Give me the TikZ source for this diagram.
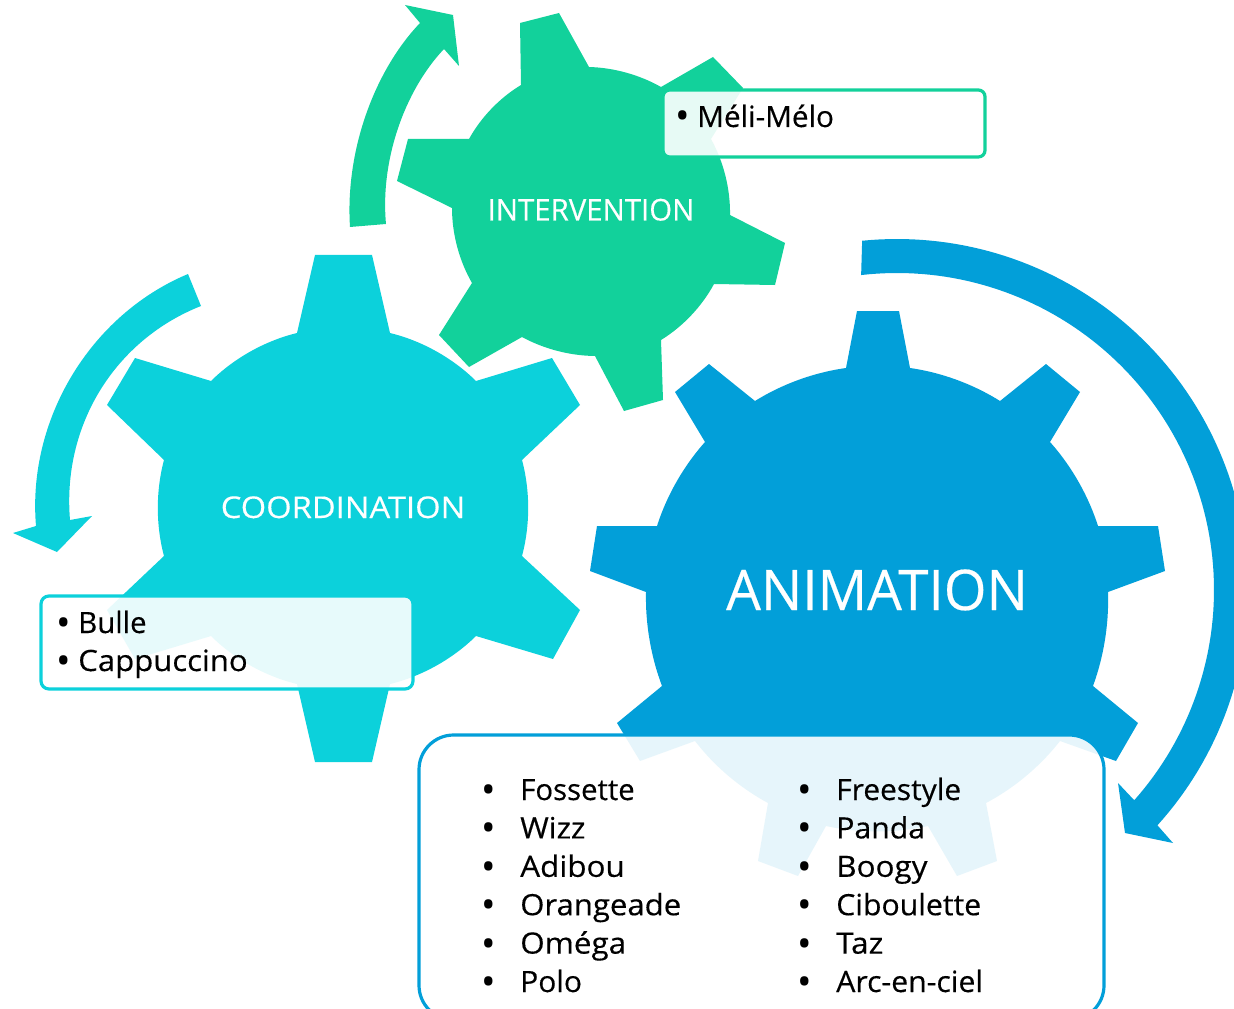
\documentclass[tikz,border=0pt]{standalone}
\usepackage{graphicx}
\usepackage{fontspec}
\setmainfont{Open Sans}
\newfontfamily\heavyfont[FakeBold=0.35]{Open Sans}
\definecolor{cblue}{HTML}{029FD9}
\definecolor{cteal}{HTML}{0CD1DB}
\definecolor{cgreen}{HTML}{12D19B}
\newcommand{\sx}[2]{\scalebox{#1}[1]{#2}}
\tikzset{
  ar/.style={bend left=#1,looseness=.85},
  ar/.default=13,
  panel/.style={line width=2.4pt,fill=white,fill opacity=.9},
  item/.style={anchor=base west,inner sep=0pt,text=black,font=\heavyfont\fontsize{22}{26}\selectfont},
  dotmark/.style={anchor=base,inner sep=0pt,text=black,font=\fontsize{29}{29}\selectfont},
  title/.style={anchor=base,inner sep=0pt,text=white},
}
\begin{document}
\begin{tikzpicture}[x=0.75pt,y=-0.75pt]
\useasboundingbox (0,0) rectangle (1234,1009);
\clip (0,0) rectangle (1234,1009);
% arrows
\fill[cgreen] (350,227) .. controls (345,150) and (375,70) .. (420,23) -- (405,5) -- (453,15) -- (459,66) -- (444,49) .. controls (405,90) and (380,160) .. (386,224) -- cycle;
\fill[cteal] (188,274) .. controls (90,315) and (27,420) .. (36,526) -- (13,533) -- (57,552) -- (92,516) -- (70,520) .. controls (62,425) and (115,340) .. (201,306) -- cycle;
\fill[cblue] plot[domain=-95.7:42.1,samples=100] ({897+351*cos(\x)},{590+351*sin(\x)}) -- (1173,843) -- (1125,833) -- (1118,783) -- (1134,800) -- plot[domain=41.5:-96.5,samples=100] ({897+317*cos(\x)},{590+317*sin(\x)}) -- cycle;
% intervention gear
\fill[cgreen] (589,67) to[ar=14] (661,87) -- (713,57) -- (743,88) -- (711,139) to[ar=15] (730,215) -- (785,243) -- (775,285) -- (714,284) to[ar=15] (661,340) -- (663,400) -- (624,411) -- (595,356) to[ar=14] (522,337) -- (469,367) -- (439,335) -- (472,283) to[ar=15] (452,208) -- (397,181) -- (408,139) -- (469,139) to[ar=15] (521,85) -- (520,23) -- (559,13) -- cycle;
% coordination gear
\fill[cteal] (390,333) to[ar=15.5] (476,381) -- (552,358) -- (580,405) -- (522,460) to[ar=15] (522,556) -- (580,610) -- (553,659) -- (476,636) to[ar=15.5] (390,684) -- (372,762) -- (315,762) -- (297,684) to[ar=15.5] (211,636) -- (135,659) -- (107,610) -- (164,556) to[ar=15] (164,460) -- (107,405) -- (135,358) -- (211,381) to[ar=15.5] (297,333) -- (315,255) -- (372,255) -- cycle;
% animation gear
\fill[cblue] (910,368) to[ar=12] (1000,401) -- (1046,364) -- (1080,392) -- (1050,442) to[ar=12] (1098,526) -- (1158,526) -- (1165,571) -- (1108,592) to[ar=11] (1093,686) -- (1138,723) -- (1116,761) -- (1060,741) to[ar=12] (986,803) -- (997,861) -- (957,876) -- (928,826) to[ar=12.5] (826,826) -- (798,876) -- (758,861) -- (768,803) to[ar=12] (695,741) -- (640,761) -- (617,723) -- (662,686) to[ar=11] (646,592) -- (590,571) -- (597,526) -- (657,526) to[ar=12] (705,442) -- (675,392) -- (709,364) -- (755,401) to[ar=12] (846,368) -- (857,311) -- (899,311) -- cycle;
% panels
\draw[panel,draw=cgreen,rounded corners=5pt] (663,90) rectangle (985,157);
\draw[panel,draw=cteal,rounded corners=6pt] (41,596) rectangle (413,689);
\draw[panel,draw=cblue,rounded corners=26pt] (419,735) rectangle (1104,1020);
% titles
\node[title,font=\heavyfont\fontsize{42}{48}\selectfont] (anim) at (877,610) {\sx{.98}{ANIMATION}};
\node[title,font=\heavyfont\fontsize{22.5}{26}\selectfont] (coord) at (343,518) {\sx{1.09}{COORDINATION}};
\node[title,font=\heavyfont\fontsize{22.5}{26}\selectfont] (interv) at (591,220.5) {\sx{.98}{INTERVENTION}};
% items
\node[item] (m) at (697,127) {\sx{1.01}{Méli-Mélo}};
\node[dotmark] (mb) at (683,129.5) {•};
\node[item] (b1) at (78,633) {Bulle};
\node[dotmark] (b1b) at (64,636) {•};
\node[item] (b2) at (78,671) {\sx{1.06}{Cappuccino}};
\node[dotmark] (b2b) at (64,674) {•};
\foreach \t/\s [count=\i from 0] in {Fossette/1,Wizz/1.05,Adibou/1.07,Orangeade/1.06,Oméga/1.07,Polo/1.02}{
  \node[item] (l\i) at (520,{800+38.4*\i}) {\sx{\s}{\t}};
  \node[dotmark] (lb\i) at (489,{803.5+38.4*\i}) {•};
}
\foreach \t/\s [count=\i from 0] in {Freestyle/1.02,Panda/1.03,Boogy/1.07,Ciboulette/1.03,Taz/1.07,Arc-en-ciel/1.03}{
  \node[item] (r\i) at (836,{800+38.4*\i}) {\sx{\s}{\t}};
  \node[dotmark] (rb\i) at (805,{803.5+38.4*\i}) {•};
}
\end{tikzpicture}
\end{document}
